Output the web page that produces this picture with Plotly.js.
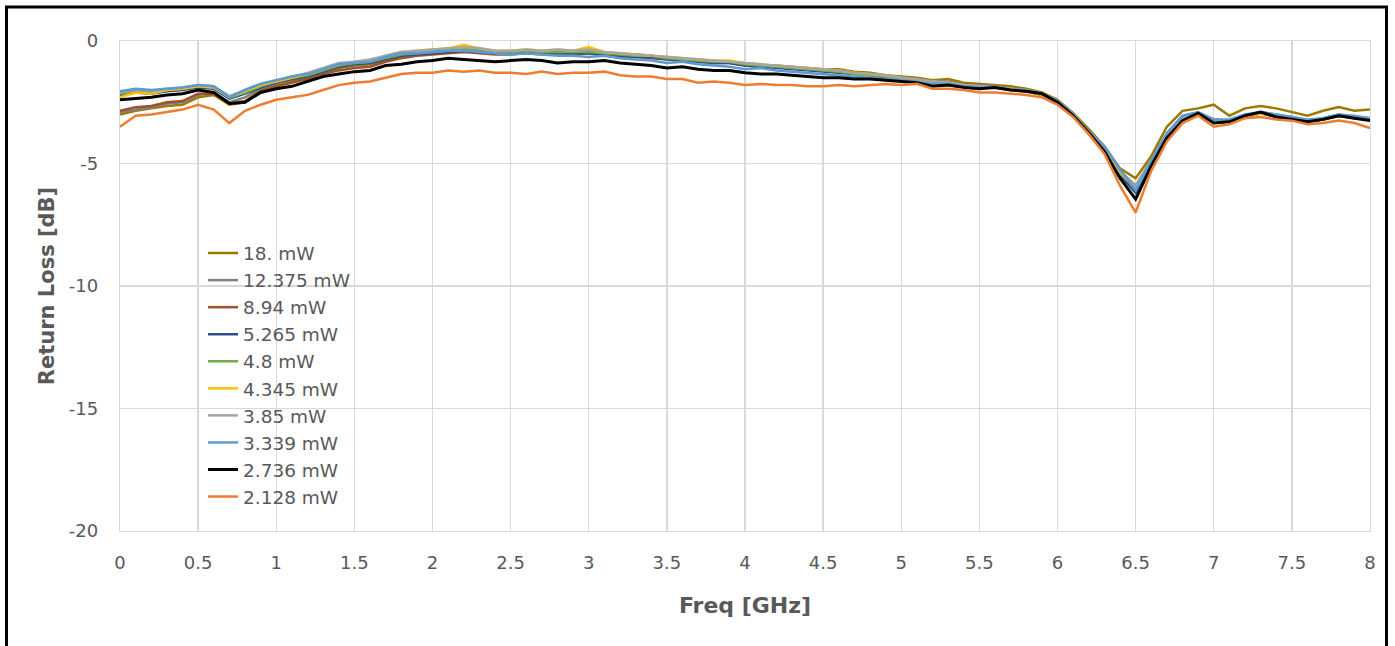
<!DOCTYPE html>
<html>
<head>
<meta charset="utf-8">
<script src="https://cdn.plot.ly/plotly-3.0.1.min.js"></script>
<style>
html,body{margin:0;padding:0;background:#fff;}
#chart{width:1395px;height:646px;}
</style>
</head>
<body>
<div id="chart"></div>
<script>
const freq = [0,0.1,0.2,0.3,0.4,0.5,0.6,0.7,0.8,0.9,
1,1.1,1.2,1.3,1.4,1.5,1.6,1.7,1.8,1.9,
2,2.1,2.2,2.3,2.4,2.5,2.6,2.7,2.8,2.9,
3,3.1,3.2,3.3,3.4,3.5,3.6,3.7,3.8,3.9,
4,4.1,4.2,4.3,4.4,4.5,4.6,4.7,4.8,4.9,
5,5.1,5.2,5.3,5.4,5.5,5.6,5.7,5.8,5.9,
6,6.1,6.2,6.3,6.4,6.5,6.6,6.7,6.8,6.9,
7,7.1,7.2,7.3,7.4,7.5,7.6,7.7,7.8,7.9,
8];

const yTickVals = [-20,-15,-10,-5,0];
const yTickText = ["-20","-15","-10","-5","0"];

const seriesNames = ["18. mW","12.375 mW","8.94 mW","5.265 mW","4.8 mW","4.345 mW","3.85 mW","3.339 mW","2.736 mW","2.128 mW"];

const rl_18 = [-3.0,-2.85,-2.75,-2.65,-2.6,-2.3,-2.2,-2.6,-2.5,-2.0,
 -1.85,-1.65,-1.5,-1.3,-1.1,-1.0,-0.95,-0.8,-0.6,-0.55,
 -0.45,-0.45,-0.35,-0.4,-0.5,-0.5,-0.45,-0.5,-0.45,-0.5,
 -0.45,-0.55,-0.6,-0.6,-0.65,-0.7,-0.75,-0.8,-0.9,-0.85,
 -0.95,-1.0,-1.0,-1.05,-1.1,-1.15,-1.15,-1.25,-1.3,-1.4,
 -1.45,-1.5,-1.6,-1.55,-1.7,-1.75,-1.8,-1.85,-1.95,-2.1,
 -2.4,-2.95,-3.6,-4.3,-5.2,-5.6,-4.7,-3.5,-2.85,-2.75,
 -2.6,-3.05,-2.75,-2.65,-2.75,-2.9,-3.05,-2.85,-2.7,-2.85,
 -2.8];
const rl_12375 = [-2.9,-2.8,-2.7,-2.55,-2.5,-2.2,-2.1,-2.5,-2.3,-1.95,
 -1.75,-1.55,-1.4,-1.2,-1.0,-0.9,-0.85,-0.65,-0.5,-0.45,
 -0.4,-0.35,-0.3,-0.35,-0.45,-0.45,-0.4,-0.45,-0.4,-0.45,
 -0.4,-0.5,-0.55,-0.55,-0.6,-0.7,-0.75,-0.8,-0.85,-0.85,
 -0.95,-1.0,-1.05,-1.1,-1.15,-1.2,-1.2,-1.3,-1.35,-1.45,
 -1.5,-1.6,-1.65,-1.65,-1.8,-1.8,-1.85,-1.95,-2.0,-2.15,
 -2.45,-3.0,-3.7,-4.35,-5.3,-5.9,-4.85,-3.8,-3.1,-2.95,
 -3.2,-3.25,-3.05,-2.9,-3.05,-3.1,-3.25,-3.15,-3.0,-3.1,
 -3.15];
const rl_894 = [-2.85,-2.7,-2.65,-2.5,-2.45,-2.15,-2.15,-2.55,-2.45,-2.05,
 -1.85,-1.7,-1.55,-1.35,-1.2,-1.1,-1.05,-0.85,-0.7,-0.6,
 -0.55,-0.5,-0.45,-0.5,-0.55,-0.55,-0.5,-0.55,-0.5,-0.55,
 -0.5,-0.6,-0.65,-0.65,-0.7,-0.75,-0.8,-0.85,-0.9,-0.9,
 -1.0,-1.05,-1.05,-1.1,-1.15,-1.2,-1.25,-1.3,-1.35,-1.45,
 -1.5,-1.6,-1.7,-1.7,-1.8,-1.85,-1.9,-1.95,-2.05,-2.2,
 -2.5,-3.05,-3.75,-4.45,-5.5,-6.15,-5.0,-3.9,-3.2,-3.0,
 -3.3,-3.3,-3.1,-2.95,-3.1,-3.15,-3.3,-3.2,-3.05,-3.15,
 -3.2];
const rl_5265 = [-2.2,-2.1,-2.15,-2.05,-2.0,-1.9,-1.95,-2.35,-2.15,-1.9,
 -1.7,-1.55,-1.45,-1.25,-1.05,-0.95,-0.9,-0.75,-0.6,-0.55,
 -0.5,-0.45,-0.4,-0.45,-0.5,-0.5,-0.45,-0.5,-0.5,-0.5,
 -0.5,-0.55,-0.6,-0.65,-0.65,-0.75,-0.8,-0.85,-0.9,-0.9,
 -1.0,-1.05,-1.1,-1.15,-1.2,-1.25,-1.3,-1.35,-1.4,-1.5,
 -1.55,-1.6,-1.7,-1.75,-1.8,-1.85,-1.9,-2.0,-2.05,-2.2,
 -2.5,-3.0,-3.7,-4.45,-5.45,-6.2,-5.0,-3.9,-3.2,-2.95,
 -3.25,-3.3,-3.1,-2.95,-3.05,-3.15,-3.3,-3.2,-3.05,-3.1,
 -3.2];
const rl_48 = [-2.15,-2.05,-2.1,-2.0,-1.95,-1.85,-1.9,-2.3,-2.1,-1.85,
 -1.65,-1.5,-1.4,-1.2,-1.0,-0.9,-0.85,-0.7,-0.55,-0.5,
 -0.45,-0.4,-0.35,-0.4,-0.45,-0.45,-0.4,-0.45,-0.45,-0.45,
 -0.45,-0.5,-0.55,-0.6,-0.6,-0.7,-0.75,-0.8,-0.85,-0.85,
 -0.95,-1.0,-1.05,-1.1,-1.15,-1.2,-1.25,-1.35,-1.4,-1.45,
 -1.55,-1.6,-1.7,-1.75,-1.8,-1.85,-1.9,-2.0,-2.05,-2.2,
 -2.5,-3.0,-3.7,-4.4,-5.4,-6.0,-4.9,-3.85,-3.15,-2.95,
 -3.2,-3.3,-3.1,-2.95,-3.05,-3.1,-3.25,-3.2,-3.05,-3.1,
 -3.15];
const rl_4345 = [-2.3,-2.1,-2.15,-2.0,-1.95,-1.85,-1.9,-2.3,-2.05,-1.8,
 -1.65,-1.5,-1.35,-1.15,-0.95,-0.85,-0.8,-0.6,-0.45,-0.4,
 -0.35,-0.3,-0.15,-0.3,-0.4,-0.4,-0.35,-0.4,-0.35,-0.4,
 -0.25,-0.45,-0.5,-0.55,-0.6,-0.65,-0.7,-0.75,-0.8,-0.8,
 -0.9,-0.95,-1.0,-1.05,-1.1,-1.15,-1.2,-1.3,-1.35,-1.4,
 -1.5,-1.6,-1.65,-1.7,-1.8,-1.85,-1.9,-1.95,-2.05,-2.2,
 -2.5,-3.0,-3.8,-4.4,-5.35,-6.05,-4.95,-3.85,-3.2,-3.0,
 -3.25,-3.3,-3.1,-2.95,-3.05,-3.15,-3.25,-3.2,-3.05,-3.1,
 -3.2];
const rl_385 = [-2.1,-2.0,-2.05,-1.95,-1.9,-1.8,-1.85,-2.25,-2.0,-1.75,
 -1.6,-1.45,-1.3,-1.1,-0.9,-0.85,-0.75,-0.6,-0.45,-0.4,
 -0.35,-0.3,-0.25,-0.3,-0.4,-0.4,-0.35,-0.4,-0.35,-0.4,
 -0.35,-0.45,-0.5,-0.55,-0.6,-0.65,-0.7,-0.75,-0.8,-0.85,
 -0.9,-0.95,-1.0,-1.05,-1.1,-1.15,-1.2,-1.3,-1.35,-1.4,
 -1.5,-1.55,-1.65,-1.7,-1.8,-1.85,-1.9,-1.95,-2.0,-2.15,
 -2.45,-3.0,-3.7,-4.35,-5.3,-5.95,-4.9,-3.8,-3.15,-2.95,
 -3.2,-3.25,-3.05,-2.9,-3.0,-3.1,-3.25,-3.15,-3.0,-3.1,
 -3.15];
const rl_3339 = [-2.05,-1.95,-2.0,-1.95,-1.9,-1.8,-1.85,-2.3,-2.0,-1.75,
 -1.6,-1.45,-1.35,-1.15,-0.95,-0.9,-0.85,-0.65,-0.5,-0.5,
 -0.45,-0.4,-0.4,-0.45,-0.5,-0.55,-0.5,-0.55,-0.6,-0.6,
 -0.65,-0.6,-0.7,-0.75,-0.8,-0.9,-0.85,-0.95,-1.0,-1.05,
 -1.15,-1.1,-1.2,-1.25,-1.3,-1.35,-1.4,-1.45,-1.5,-1.55,
 -1.6,-1.65,-1.75,-1.75,-1.85,-1.9,-1.9,-2.0,-2.05,-2.15,
 -2.45,-3.0,-3.7,-4.3,-5.25,-6.1,-4.9,-3.75,-3.05,-2.9,
 -3.2,-3.2,-3.0,-2.9,-3.0,-3.1,-3.2,-3.15,-3.0,-3.05,
 -3.15];
const rl_2736 = [-2.4,-2.35,-2.3,-2.2,-2.15,-2.0,-2.1,-2.55,-2.5,-2.1,
 -1.95,-1.85,-1.65,-1.45,-1.35,-1.25,-1.2,-1.0,-0.95,-0.85,
 -0.8,-0.7,-0.75,-0.8,-0.85,-0.8,-0.75,-0.8,-0.9,-0.85,
 -0.85,-0.8,-0.9,-0.95,-1.0,-1.1,-1.05,-1.15,-1.2,-1.2,
 -1.3,-1.35,-1.35,-1.4,-1.45,-1.5,-1.5,-1.55,-1.55,-1.6,
 -1.65,-1.7,-1.85,-1.8,-1.9,-1.95,-1.9,-2.0,-2.05,-2.15,
 -2.5,-3.05,-3.75,-4.5,-5.6,-6.45,-5.1,-3.95,-3.25,-2.95,
 -3.35,-3.3,-3.05,-2.9,-3.1,-3.2,-3.3,-3.2,-3.05,-3.15,
 -3.25];
const rl_2128 = [-3.5,-3.05,-3.0,-2.9,-2.8,-2.6,-2.8,-3.35,-2.85,-2.6,
 -2.4,-2.3,-2.2,-2.0,-1.8,-1.7,-1.65,-1.5,-1.35,-1.3,
 -1.3,-1.2,-1.25,-1.2,-1.3,-1.3,-1.35,-1.25,-1.35,-1.3,
 -1.3,-1.25,-1.4,-1.45,-1.45,-1.55,-1.55,-1.7,-1.65,-1.7,
 -1.8,-1.75,-1.8,-1.8,-1.85,-1.85,-1.8,-1.85,-1.8,-1.75,
 -1.8,-1.75,-1.95,-1.95,-2.0,-2.1,-2.1,-2.15,-2.2,-2.3,
 -2.6,-3.1,-3.8,-4.6,-5.9,-7.0,-5.3,-4.1,-3.35,-3.05,
 -3.5,-3.4,-3.15,-3.1,-3.2,-3.25,-3.4,-3.35,-3.25,-3.35,
 -3.55];

const seriesValues = [rl_18, rl_12375, rl_894, rl_5265, rl_48, rl_4345, rl_385, rl_3339, rl_2736, rl_2128];
const seriesColors = ["#9C7A00","#7F7F7F","#A0502A","#2E4D86","#70AD47","#FFC000","#A5A5A5","#5B9BD5","#000000","#ED7D31"];
const seriesWidths = [2.5,2.5,2.5,2.5,2.5,2.5,2.5,2.5,3,2.5];

const traces = seriesNames.map((n, i) => ({
  type: 'scatter', mode: 'lines', name: n,
  x: freq, y: seriesValues[i],
  line: {color: seriesColors[i], width: seriesWidths[i]}
}));

const txt = '#595959';
const layout = {
  width: 1395, height: 646,
  margin: {l: 120, r: 25, t: 41, b: 115, pad: 0},
  paper_bgcolor: '#fff', plot_bgcolor: '#fff',
  font: {family: 'DejaVu Sans, sans-serif', color: txt, size: 18},
  showlegend: true,
  legend: {
    x: 0.0664, y: 0.605, xanchor: 'left', yanchor: 'top',
    bgcolor: 'rgba(0,0,0,0)', borderwidth: 0,
    font: {family: 'DejaVu Sans, sans-serif', size: 18.5, color: txt},
    tracegroupgap: 0, itemwidth: 30
  },
  xaxis: {
    range: [0, 8], dtick: 0.5, tick0: 0,
    showgrid: true, gridcolor: '#D9D9D9', gridwidth: 1.3,
    zeroline: false, showline: true, linecolor: '#D9D9D9', linewidth: 1.3, mirror: true,
    ticks: '', ticklen: 0, ticklabelstandoff: 15,
    tickfont: {family: 'DejaVu Sans, sans-serif', size: 18, color: txt},
    title: {text: 'Freq [GHz]', font: {family: 'DejaVu Sans, sans-serif', size: 22, color: txt, weight: 'bold'}, standoff: 25}
  },
  yaxis: {
    range: [-20, 0], tickvals: yTickVals, ticktext: yTickText,
    showgrid: true, gridcolor: '#D9D9D9', gridwidth: 1.3,
    zeroline: false, showline: true, linecolor: '#D9D9D9', linewidth: 1.3, mirror: true,
    ticks: '', ticklen: 0, ticklabelstandoff: 17,
    tickfont: {family: 'DejaVu Sans, sans-serif', size: 18, color: txt},
    title: {text: 'Return Loss [dB]', font: {family: 'DejaVu Sans, sans-serif', size: 21, color: txt, weight: 'bold'}, standoff: 8}
  },
  shapes: [{
    type: 'rect', xref: 'paper', yref: 'paper',
    x0: -0.0908, x1: 1.0132, y0: -0.26, y1: 1.0695,
    line: {color: '#000', width: 3}, fillcolor: 'rgba(0,0,0,0)', layer: 'above'
  }]
};

Plotly.newPlot('chart', traces, layout, {displayModeBar: false, staticPlot: true});
</script>
</body>
</html>
